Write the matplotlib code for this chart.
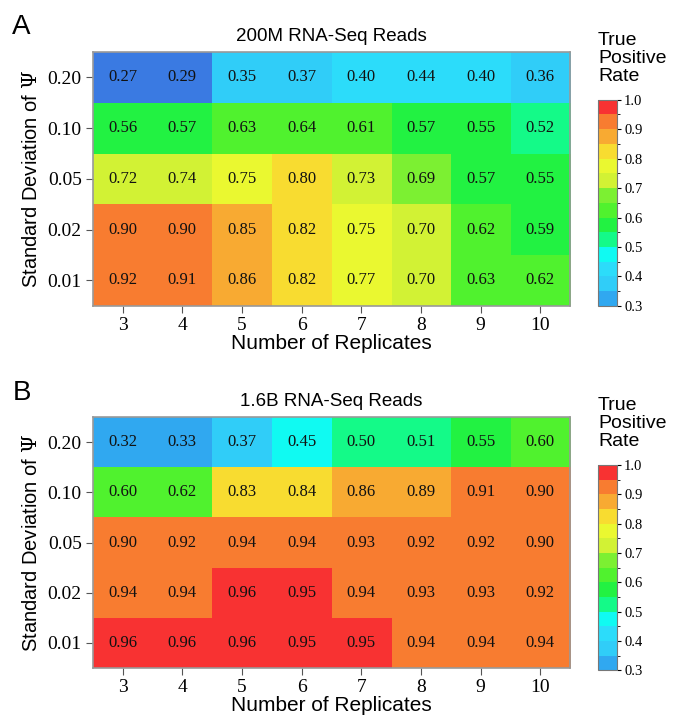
import numpy as np
from matplotlib import pyplot as plt
from matplotlib.colors import ListedColormap, BoundaryNorm

replicates = ['3', '4', '5', '6', '7', '8', '9', '10']
sd_psi = ['0.20', '0.10', '0.05', '0.02', '0.01']

# true positive rate, rows = sd of psi (top to bottom), cols = replicates
tpr_200m = [
    [0.27, 0.29, 0.35, 0.37, 0.40, 0.44, 0.40, 0.36],
    [0.56, 0.57, 0.63, 0.64, 0.61, 0.57, 0.55, 0.52],
    [0.72, 0.74, 0.75, 0.80, 0.73, 0.69, 0.57, 0.55],
    [0.90, 0.90, 0.85, 0.82, 0.75, 0.70, 0.62, 0.59],
    [0.92, 0.91, 0.86, 0.82, 0.77, 0.70, 0.63, 0.62],
]
tpr_1_6b = [
    [0.32, 0.33, 0.37, 0.45, 0.50, 0.51, 0.55, 0.60],
    [0.60, 0.62, 0.83, 0.84, 0.86, 0.89, 0.91, 0.90],
    [0.90, 0.92, 0.94, 0.94, 0.93, 0.92, 0.92, 0.90],
    [0.94, 0.94, 0.96, 0.95, 0.94, 0.93, 0.93, 0.92],
    [0.96, 0.96, 0.96, 0.95, 0.95, 0.94, 0.94, 0.94],
]

# stepped colour scale 0.30 -> 1.00
bin_colors = ['#30a8f0', '#30cdf8', '#2cdcfa', '#10faf2', '#14fa88',
              '#22f242', '#50f22e', '#7cf032', '#d2f234', '#eaf830',
              '#f8dc30', '#f8aa32', '#f87c30', '#f83232']
cmap = ListedColormap(bin_colors)
cmap.set_under('#3a7ae2')
bounds = np.linspace(0.3, 1.0, 15)
norm = BoundaryNorm(bounds, cmap.N)

serif = 'Liberation Serif'
sans = 'Liberation Sans'
plt.rcParams['mathtext.fontset'] = 'dejavuserif'

fig = plt.figure(figsize=(6.82, 7.23), dpi=100)

panels = [
    ('A', '200M RNA-Seq Reads', tpr_200m, [0.136, 0.577, 0.700, 0.351], [0.877, 0.577, 0.028, 0.285], 0.980),
    ('B', '1.6B RNA-Seq Reads', tpr_1_6b, [0.136, 0.076, 0.700, 0.347], [0.877, 0.073, 0.028, 0.284], 0.475),
]

for letter, title, vals, pos, cpos, ytop in panels:
    data = np.array(vals)
    ax = fig.add_axes(pos)
    im = ax.imshow(data, cmap=cmap, norm=norm, aspect='auto')
    for i in range(data.shape[0]):
        for j in range(data.shape[1]):
            ax.text(j, i, '%.2f' % data[i, j], ha='center', va='center',
                    fontsize=12, family=serif, color='#111111')
    ax.set_xticks(range(len(replicates)))
    ax.set_xticklabels(replicates, family=serif, fontsize=14)
    ax.set_yticks(range(len(sd_psi)))
    ax.set_yticklabels(sd_psi, family=serif, fontsize=14)
    ax.tick_params(length=5, color='#555555', pad=3)
    for s in ax.spines.values():
        s.set_color('#999999')
        s.set_linewidth(1.2)
    ax.set_xlabel('Number of Replicates', family=sans, fontsize=15, labelpad=0)
    ax.set_ylabel(r'Standard Deviation of $\mathit{\Psi}$', family=sans, fontsize=14.5, labelpad=5)
    ax.set_title(title, family=sans, fontsize=13.5, pad=8)
    fig.text(0.018, ytop, letter, family=sans, fontsize=20, va='top')

    cax = fig.add_axes(cpos)
    cb = fig.colorbar(im, cax=cax, ticks=[0.3, 0.4, 0.5, 0.6, 0.7, 0.8, 0.9, 1.0])
    cb.ax.set_yticklabels(['0.3', '0.4', '0.5', '0.6', '0.7', '0.8', '0.9', '1.0'],
                          family=serif, fontsize=10.5)
    cb.ax.tick_params(length=3, width=0.8, pad=2)
    cb.outline.set_edgecolor('#777777')
    cb.outline.set_linewidth(0.8)
    fig.text(cpos[0], cpos[1] + cpos[3] + 0.02, 'True\nPositive\nRate',
             family=sans, fontsize=14, va='bottom', ha='left', linespacing=1.1)

fig.savefig('out.png', dpi=100, facecolor='white')
